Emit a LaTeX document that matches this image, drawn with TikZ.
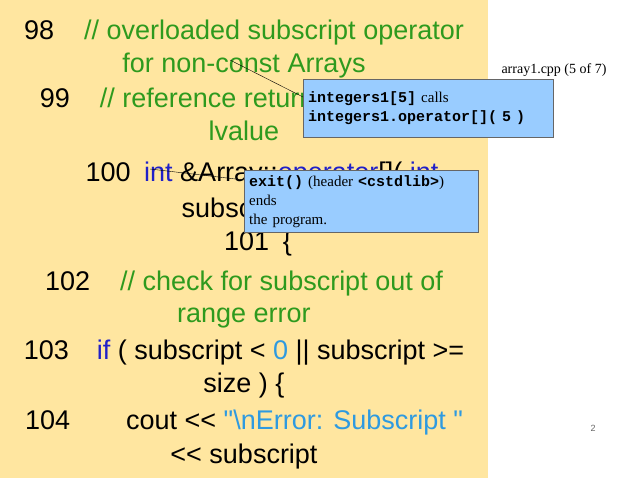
\documentclass[tikz,border=0pt]{standalone}
\usepackage{fontspec}
\setmainfont{Liberation Serif}
\newfontfamily\codefont{Liberation Sans}
\newfontfamily\monofont{Liberation Mono}
\definecolor{slideyellow}{HTML}{FFE6A0}
\definecolor{cmtgreen}{HTML}{2E9A1E}
\definecolor{kwblue}{HTML}{2020C8}
\definecolor{litblue}{HTML}{2E9AE0}
\definecolor{callblue}{HTML}{99CCFF}
\tikzset{
  codeline/.style={anchor=base, font=\codefont\fontsize{27}{30}\selectfont, inner sep=0pt},
  callout/.style={draw=black!60, fill=callblue, anchor=north west, align=left, inner sep=5pt,
    font=\fontsize{15}{19}\selectfont},
}
\newcommand{\cmt}[1]{\textcolor{cmtgreen}{#1}}
\newcommand{\kw}[1]{\textcolor{kwblue}{#1}}
\newcommand{\cd}[1]{{\monofont\bfseries #1}}
\begin{document}
\begin{tikzpicture}[x=1pt,y=-1pt]
  \useasboundingbox (0,0) rectangle (638,478);
  \fill[slideyellow] (0,0) rectangle (488,478);

  % code lines
  \node[codeline] (l98a) at (244,40) {98\hspace{30pt}\cmt{// overloaded subscript operator}};
  \node[codeline] (l98b) at (244,73) {\cmt{for non-const Arrays}};
  \node[codeline] (l99a) at (244,108) {99\hspace{30pt}\cmt{// reference return creates an}};
  \node[codeline] (l99b) at (244,141) {\cmt{lvalue}};
  \node[codeline] (l100a) at (262,182) {100\enspace \kw{int} \&Array::\kw{operator}[]( \kw{int}};
  \node[codeline] (l100b) at (244,218) {subscript )};
  \node[codeline] (l101) at (258,251) {101\enspace \{};
  \node[codeline] (l102a) at (244,291) {102\hspace{30pt}\cmt{// check for subscript out of}};
  \node[codeline] (l102b) at (244,323) {\cmt{range error}};
  \node[codeline] (l103a) at (244,360) {103\hspace{28pt}\kw{if} ( subscript < \textcolor{litblue}{0} || subscript >=};
  \node[codeline] (l103b) at (244,393) {size ) \{};
  \node[codeline] (l104a) at (244,430) {104\hspace{56pt}cout << \textcolor{litblue}{"\textbackslash nError: Subscript "}};
  \node[codeline] (l104b) at (244,464) {<< subscript};

  % callouts
  \coordinate (tip1) at (230,60);
  \coordinate (tip2) at (150,169);
  \node[callout, text width=240pt, minimum height=58pt] (call1) at (303,79)
    {\cd{integers1[5]} calls\\ \cd{integers1.operator[]( 5 )}};
  \node[callout, text width=224pt] (call2) at (244,170)
    {\cd{exit()} (header \cd{<cstdlib>}) ends\\ the program.};
  \draw (tip1) -- ([yshift=-18pt]call1.north west);
  \draw (tip2) -- ([yshift=-10pt]call2.north west);

  \node[anchor=base east, font=\fontsize{14}{16}\selectfont] (title) at (610,74) {array1.cpp (5 of 7)};
  \node[anchor=base, font=\fontsize{9}{10}\selectfont\codefont, text=black!60] (page) at (593,432) {2};
\end{tikzpicture}
\end{document}
